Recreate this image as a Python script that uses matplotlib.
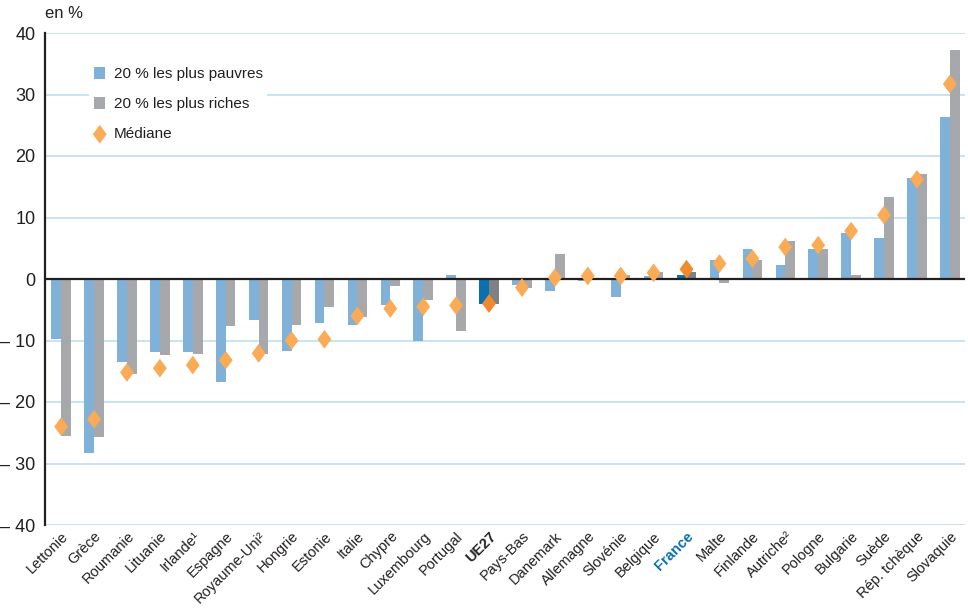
import numpy as np
import matplotlib
matplotlib.use("Agg")
import matplotlib.pyplot as plt
from matplotlib.path import Path

plt.rcParams['font.family'] = ['Liberation Sans Narrow', 'Liberation Sans', 'DejaVu Sans']

# Pays (UE27 et France mis en évidence)
pays = ["Lettonie", "Grèce", "Roumanie", "Lituanie", "Irlande¹", "Espagne",
        "Royaume-Uni²", "Hongrie", "Estonie", "Italie", "Chypre", "Luxembourg",
        "Portugal", "UE27", "Pays-Bas", "Danemark", "Allemagne", "Slovénie",
        "Belgique", "France", "Malte", "Finlande", "Autriche²", "Pologne",
        "Bulgarie", "Suède", "Rép. tchèque", "Slovaquie"]

# Évolution en %
pauvres = [-9.8, -28.3, -13.5, -11.9, -11.9, -16.7, -6.7, -11.7, -7.2, -7.5,
           -4.2, -10.1, 0.6, -4.1, -0.9, -1.9, -0.4, -2.9, 0.5, 0.7,
           3.1, 4.9, 2.3, 4.9, 7.5, 6.7, 16.5, 26.4]
riches = [-25.5, -25.7, -15.4, -12.4, -12.2, -7.7, -12.2, -7.5, -4.5, -6.2,
          -1.2, -3.4, -8.5, -4.1, -1.5, 4.0, 0.2, 0.7, 1.2, 1.2,
          -0.7, 3.1, 6.1, 4.9, 0.7, 13.4, 17.0, 37.3]
mediane = [-24.0, -22.8, -15.2, -14.5, -14.0, -13.2, -12.1, -10.0, -9.8, -6.0,
           -4.8, -4.5, -4.3, -4.0, -1.4, 0.2, 0.5, 0.5, 1.0, 1.6,
           2.5, 3.3, 5.2, 5.5, 7.8, 10.4, 16.2, 31.7]

yticks = [40, 30, 20, 10, 0, -10, -20, -30, -40]

BLEU, GRIS, ORANGE = "#80b1d9", "#a7a8ab", "#fbaa55"
BLEU_F, GRIS_F, ORANGE_F = "#0b6fb0", "#808184", "#f08a2c"
GRILLE = "#b8dcf0"
TEXTE = "#231f20"

x = np.arange(len(pays))
w = 0.295
fonce = [p in ("UE27", "France") for p in pays]

fig = plt.figure(figsize=(9.68, 6.08), dpi=100)
ax = fig.add_axes([45 / 968, 83 / 608, 920 / 968, 492 / 608])

for yv in yticks:
    if yv != 0:
        ax.axhline(yv, color=GRILLE, lw=1.1, zorder=0)

b1 = ax.bar(x - w / 2, pauvres, w, color=[BLEU_F if f else BLEU for f in fonce],
            zorder=2, label="20 % les plus pauvres")
b2 = ax.bar(x + w / 2, riches, w, color=[GRIS_F if f else GRIS for f in fonce],
            zorder=2, label="20 % les plus riches")
ax.axhline(0, color="#231f20", lw=1.6, zorder=3)

losange = Path([(0, 1), (0.74, 0), (0, -1), (-0.74, 0), (0, 1)],
               [Path.MOVETO, Path.LINETO, Path.LINETO, Path.LINETO, Path.CLOSEPOLY])
couleurs_med = [ORANGE_F if f else ORANGE for f in fonce]
ax.scatter(x, mediane, marker=losange, s=13.5 ** 2, c=couleurs_med,
           edgecolors="none", zorder=4)
med_handle = ax.scatter([], [], marker=losange, s=13.5 ** 2, c=ORANGE,
                        edgecolors="none", label="Médiane")

ax.set_xlim(-0.49, 27.46)
ax.set_ylim(-40, 40)
ax.set_yticks(yticks)
ax.set_yticklabels([("– %d" % -v) if v < 0 else str(v) for v in yticks],
                   fontsize=13, color=TEXTE)
ax.tick_params(axis="y", length=0, pad=7)

ax.set_xticks(x)
ax.set_xticklabels(pays, rotation=45, ha="right", rotation_mode="anchor",
                   fontsize=10.5, color=TEXTE)
ax.tick_params(axis="x", length=0, pad=3)
for lab in ax.get_xticklabels():
    if lab.get_text() == "UE27":
        lab.set_fontweight("bold")
    elif lab.get_text() == "France":
        lab.set_fontweight("bold")
        lab.set_color(BLEU_F)

for s in ("top", "right", "bottom"):
    ax.spines[s].set_visible(False)
ax.spines["left"].set_color("#231f20")
ax.spines["left"].set_linewidth(1.6)

ax.text(0.0, 1.025, "en %", transform=ax.transAxes, fontsize=12,
        color=TEXTE, va="bottom", ha="left")

leg = ax.legend(handles=[b1, b2, med_handle], loc="upper left",
                bbox_to_anchor=(0.04, 0.955), frameon=True, fancybox=False,
                edgecolor="none", facecolor="white", framealpha=1,
                fontsize=11, handlelength=0.75, handleheight=0.75,
                handletextpad=0.55, labelspacing=1.05, borderpad=0.3)
for t in leg.get_texts():
    t.set_color(TEXTE)

fig.savefig("out.png", dpi=100)
